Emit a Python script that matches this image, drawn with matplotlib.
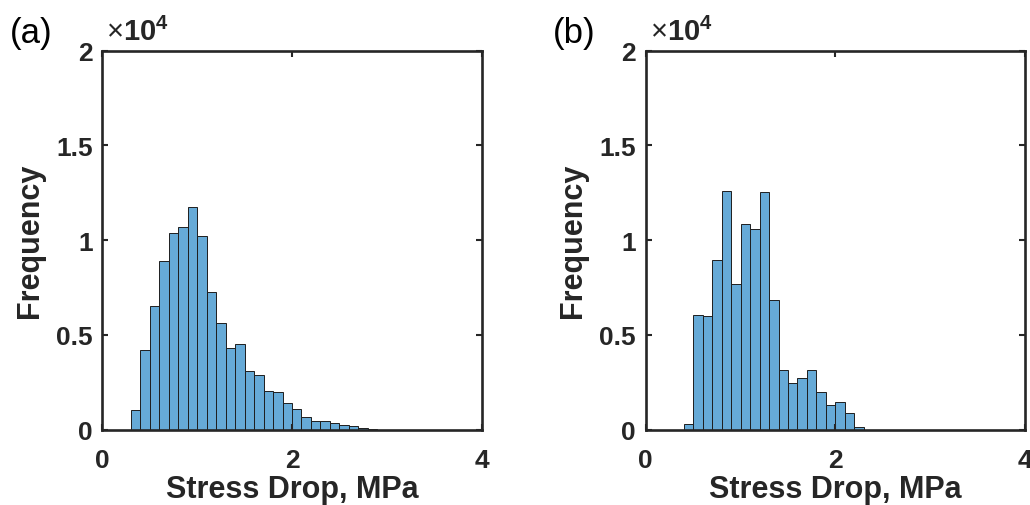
import numpy as np
import matplotlib
matplotlib.use("Agg")
import matplotlib.pyplot as plt
from matplotlib.ticker import FuncFormatter

# bin edges (MPa) and counts
edges_a = np.round(np.arange(0.3, 2.91, 0.1), 2)
counts_a = [1050, 4200, 6500, 8900, 10350, 10700, 11750, 10200, 7250, 5600,
            4300, 4500, 3100, 2900, 2050, 2000, 1400, 1100, 650, 445,
            445, 340, 250, 180, 80, 40]

edges_b = np.round(np.arange(0.4, 2.31, 0.1), 2)
counts_b = [275, 6020, 5990, 8970, 12570, 7680, 10870, 10610, 12530, 6850,
            3130, 2480, 2720, 3130, 2000, 1300, 1440, 860, 150]

panel_labels = ["(a)", "(b)"]
xlabel = "Stress Drop, MPa"
ylabel = "Frequency"

plt.rcParams["font.family"] = ["Liberation Sans", "DejaVu Sans"]
plt.rcParams["mathtext.fontset"] = "custom"
plt.rcParams["mathtext.rm"] = "Liberation Sans"
plt.rcParams["mathtext.bf"] = "Liberation Sans:bold"

axis_col = "#262626"
face_col = "#66aad7"

fig = plt.figure(figsize=(10.30, 5.06), dpi=100)
lefts = [0.0993, 0.6269]
datasets = [(edges_a, counts_a), (edges_b, counts_b)]

for left, (edges, counts), lab in zip(lefts, datasets, panel_labels):
    ax = fig.add_axes([left, 0.1492, 0.3684, 0.7486])
    ax.hist(edges[:-1], bins=edges, weights=counts, color=face_col,
            edgecolor="#1e1e1e", linewidth=0.7)
    ax.set_xlim(0, 4)
    ax.set_ylim(0, 20000)
    ax.set_xticks([0, 2, 4])
    ax.set_yticks([0, 5000, 10000, 15000, 20000])
    ax.yaxis.set_major_formatter(FuncFormatter(lambda v, p: "%g" % (v / 1e4)))
    ax.tick_params(direction="in", length=4, width=1.5, top=True, right=True,
                   colors=axis_col, labelsize=19, pad=7)
    ax.tick_params(axis="x", pad=13)
    for t in ax.get_xticklabels() + ax.get_yticklabels():
        t.set_fontweight("bold")
    for s in ax.spines.values():
        s.set_linewidth(1.9)
        s.set_color(axis_col)
    ax.set_xlabel(xlabel, fontsize=22, fontweight="bold", color=axis_col, labelpad=2)
    ax.set_ylabel(ylabel, fontsize=22, fontweight="bold", color=axis_col, labelpad=8)
    ax.text(0.01, 1.012, r"$\times\mathbf{10}^{\mathbf{4}}$", transform=ax.transAxes,
            fontsize=21, color=axis_col, ha="left", va="bottom")
    fig.text(left - 0.090, 0.933, lab, fontsize=25, color="black",
             ha="left", va="center")

fig.savefig("out.png", dpi=100)
